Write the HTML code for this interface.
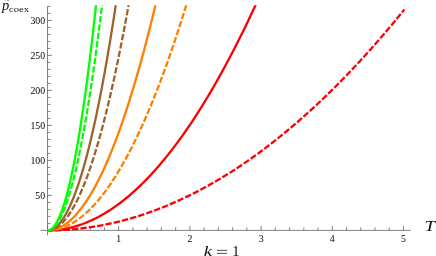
<!DOCTYPE html>
<html><head><meta charset="utf-8"><style>
html,body{margin:0;padding:0;background:#fff;}
svg{display:block;will-change:transform;font-family:"Liberation Serif",serif;}
</style></head><body>
<svg width="436" height="256" viewBox="0 0 436 256">
<rect width="436" height="256" fill="#fff"/>
<line x1="40.5" y1="230.4" x2="410.8" y2="230.4" stroke="#666" stroke-width="0.8"/>
<line x1="47.5" y1="6.2" x2="47.5" y2="235.2" stroke="#666" stroke-width="0.8"/>
<line x1="47.50" y1="230.4" x2="47.50" y2="225.9" stroke="#666" stroke-width="0.8"/>
<line x1="61.74" y1="230.4" x2="61.74" y2="227.3" stroke="#666" stroke-width="0.8"/>
<line x1="75.98" y1="230.4" x2="75.98" y2="227.3" stroke="#666" stroke-width="0.8"/>
<line x1="90.22" y1="230.4" x2="90.22" y2="227.3" stroke="#666" stroke-width="0.8"/>
<line x1="104.46" y1="230.4" x2="104.46" y2="227.3" stroke="#666" stroke-width="0.8"/>
<line x1="118.70" y1="230.4" x2="118.70" y2="225.9" stroke="#666" stroke-width="0.8"/>
<line x1="132.94" y1="230.4" x2="132.94" y2="227.3" stroke="#666" stroke-width="0.8"/>
<line x1="147.18" y1="230.4" x2="147.18" y2="227.3" stroke="#666" stroke-width="0.8"/>
<line x1="161.42" y1="230.4" x2="161.42" y2="227.3" stroke="#666" stroke-width="0.8"/>
<line x1="175.66" y1="230.4" x2="175.66" y2="227.3" stroke="#666" stroke-width="0.8"/>
<line x1="189.90" y1="230.4" x2="189.90" y2="225.9" stroke="#666" stroke-width="0.8"/>
<line x1="204.14" y1="230.4" x2="204.14" y2="227.3" stroke="#666" stroke-width="0.8"/>
<line x1="218.38" y1="230.4" x2="218.38" y2="227.3" stroke="#666" stroke-width="0.8"/>
<line x1="232.62" y1="230.4" x2="232.62" y2="227.3" stroke="#666" stroke-width="0.8"/>
<line x1="246.86" y1="230.4" x2="246.86" y2="227.3" stroke="#666" stroke-width="0.8"/>
<line x1="261.10" y1="230.4" x2="261.10" y2="225.9" stroke="#666" stroke-width="0.8"/>
<line x1="275.34" y1="230.4" x2="275.34" y2="227.3" stroke="#666" stroke-width="0.8"/>
<line x1="289.58" y1="230.4" x2="289.58" y2="227.3" stroke="#666" stroke-width="0.8"/>
<line x1="303.82" y1="230.4" x2="303.82" y2="227.3" stroke="#666" stroke-width="0.8"/>
<line x1="318.06" y1="230.4" x2="318.06" y2="227.3" stroke="#666" stroke-width="0.8"/>
<line x1="332.30" y1="230.4" x2="332.30" y2="225.9" stroke="#666" stroke-width="0.8"/>
<line x1="346.54" y1="230.4" x2="346.54" y2="227.3" stroke="#666" stroke-width="0.8"/>
<line x1="360.78" y1="230.4" x2="360.78" y2="227.3" stroke="#666" stroke-width="0.8"/>
<line x1="375.02" y1="230.4" x2="375.02" y2="227.3" stroke="#666" stroke-width="0.8"/>
<line x1="389.26" y1="230.4" x2="389.26" y2="227.3" stroke="#666" stroke-width="0.8"/>
<line x1="403.50" y1="230.4" x2="403.50" y2="225.9" stroke="#666" stroke-width="0.8"/>
<line x1="47.5" y1="230.40" x2="52.0" y2="230.40" stroke="#666" stroke-width="0.8"/>
<line x1="47.5" y1="223.40" x2="50.6" y2="223.40" stroke="#666" stroke-width="0.8"/>
<line x1="47.5" y1="216.40" x2="50.6" y2="216.40" stroke="#666" stroke-width="0.8"/>
<line x1="47.5" y1="209.40" x2="50.6" y2="209.40" stroke="#666" stroke-width="0.8"/>
<line x1="47.5" y1="202.40" x2="50.6" y2="202.40" stroke="#666" stroke-width="0.8"/>
<line x1="47.5" y1="195.40" x2="52.0" y2="195.40" stroke="#666" stroke-width="0.8"/>
<line x1="47.5" y1="188.40" x2="50.6" y2="188.40" stroke="#666" stroke-width="0.8"/>
<line x1="47.5" y1="181.40" x2="50.6" y2="181.40" stroke="#666" stroke-width="0.8"/>
<line x1="47.5" y1="174.40" x2="50.6" y2="174.40" stroke="#666" stroke-width="0.8"/>
<line x1="47.5" y1="167.40" x2="50.6" y2="167.40" stroke="#666" stroke-width="0.8"/>
<line x1="47.5" y1="160.40" x2="52.0" y2="160.40" stroke="#666" stroke-width="0.8"/>
<line x1="47.5" y1="153.40" x2="50.6" y2="153.40" stroke="#666" stroke-width="0.8"/>
<line x1="47.5" y1="146.40" x2="50.6" y2="146.40" stroke="#666" stroke-width="0.8"/>
<line x1="47.5" y1="139.40" x2="50.6" y2="139.40" stroke="#666" stroke-width="0.8"/>
<line x1="47.5" y1="132.40" x2="50.6" y2="132.40" stroke="#666" stroke-width="0.8"/>
<line x1="47.5" y1="125.40" x2="52.0" y2="125.40" stroke="#666" stroke-width="0.8"/>
<line x1="47.5" y1="118.40" x2="50.6" y2="118.40" stroke="#666" stroke-width="0.8"/>
<line x1="47.5" y1="111.40" x2="50.6" y2="111.40" stroke="#666" stroke-width="0.8"/>
<line x1="47.5" y1="104.40" x2="50.6" y2="104.40" stroke="#666" stroke-width="0.8"/>
<line x1="47.5" y1="97.40" x2="50.6" y2="97.40" stroke="#666" stroke-width="0.8"/>
<line x1="47.5" y1="90.40" x2="52.0" y2="90.40" stroke="#666" stroke-width="0.8"/>
<line x1="47.5" y1="83.40" x2="50.6" y2="83.40" stroke="#666" stroke-width="0.8"/>
<line x1="47.5" y1="76.40" x2="50.6" y2="76.40" stroke="#666" stroke-width="0.8"/>
<line x1="47.5" y1="69.40" x2="50.6" y2="69.40" stroke="#666" stroke-width="0.8"/>
<line x1="47.5" y1="62.40" x2="50.6" y2="62.40" stroke="#666" stroke-width="0.8"/>
<line x1="47.5" y1="55.40" x2="52.0" y2="55.40" stroke="#666" stroke-width="0.8"/>
<line x1="47.5" y1="48.40" x2="50.6" y2="48.40" stroke="#666" stroke-width="0.8"/>
<line x1="47.5" y1="41.40" x2="50.6" y2="41.40" stroke="#666" stroke-width="0.8"/>
<line x1="47.5" y1="34.40" x2="50.6" y2="34.40" stroke="#666" stroke-width="0.8"/>
<line x1="47.5" y1="27.40" x2="50.6" y2="27.40" stroke="#666" stroke-width="0.8"/>
<line x1="47.5" y1="20.40" x2="52.0" y2="20.40" stroke="#666" stroke-width="0.8"/>
<line x1="47.5" y1="13.40" x2="50.6" y2="13.40" stroke="#666" stroke-width="0.8"/>
<line x1="47.5" y1="6.40" x2="50.6" y2="6.40" stroke="#666" stroke-width="0.8"/>
<clipPath id="cp"><rect x="0" y="5.2" width="436" height="250"/></clipPath>
<g clip-path="url(#cp)">
<polyline points="47.50,230.40 52.02,230.36 56.53,230.26 61.05,230.08 65.57,229.83 70.09,229.52 74.60,229.13 79.12,228.67 83.64,228.14 88.15,227.53 92.67,226.86 97.19,226.12 101.71,225.30 106.22,224.42 110.74,223.46 115.26,222.44 119.77,221.34 124.29,220.17 128.81,218.93 133.33,217.62 137.84,216.24 142.36,214.79 146.88,213.27 151.39,211.68 155.91,210.02 160.43,208.28 164.95,206.48 169.46,204.60 173.98,202.66 178.50,200.64 183.01,198.55 187.53,196.39 192.05,194.16 196.57,191.86 201.08,189.49 205.60,187.05 210.12,184.54 214.63,181.95 219.15,179.30 223.67,176.57 228.19,173.78 232.70,170.91 237.22,167.98 241.74,164.97 246.25,161.89 250.77,158.74 255.29,155.52 259.81,152.23 264.32,148.87 268.84,145.43 273.36,141.93 277.87,138.36 282.39,134.71 286.91,131.00 291.43,127.21 295.94,123.35 300.46,119.42 304.98,115.42 309.49,111.35 314.01,107.21 318.53,103.00 323.05,98.72 327.56,94.37 332.08,89.95 336.60,85.45 341.11,80.89 345.63,76.25 350.15,71.54 354.67,66.77 359.18,61.92 363.70,57.00 368.22,52.01 372.73,46.95 377.25,41.82 381.77,36.62 386.29,31.34 390.80,26.00 395.32,20.58 399.84,15.10 404.35,9.54" fill="none" stroke="#ff0000" stroke-width="2.3" stroke-dasharray="6.35 2.1" stroke-dashoffset="0.8"/>
<polyline points="47.50,230.40 50.15,230.36 52.80,230.25 55.45,230.07 58.10,229.81 60.75,229.49 63.40,229.08 66.05,228.61 68.70,228.06 71.35,227.44 74.00,226.74 76.65,225.98 79.30,225.13 81.95,224.22 84.60,223.23 87.25,222.17 89.90,221.04 92.55,219.83 95.20,218.55 97.86,217.20 100.51,215.77 103.16,214.27 105.81,212.70 108.46,211.06 111.11,209.34 113.76,207.55 116.41,205.68 119.06,203.74 121.71,201.73 124.36,199.65 127.01,197.49 129.66,195.26 132.31,192.96 134.96,190.58 137.61,188.13 140.26,185.61 142.91,183.01 145.56,180.34 148.21,177.60 150.86,174.79 153.51,171.90 156.16,168.93 158.81,165.90 161.46,162.79 164.11,159.61 166.76,156.36 169.41,153.03 172.06,149.63 174.71,146.16 177.36,142.61 180.01,138.99 182.66,135.30 185.31,131.53 187.96,127.69 190.61,123.78 193.27,119.79 195.92,115.73 198.57,111.60 201.22,107.40 203.87,103.12 206.52,98.77 209.17,94.34 211.82,89.85 214.47,85.27 217.12,80.63 219.77,75.91 222.42,71.12 225.07,66.26 227.72,61.33 230.37,56.32 233.02,51.23 235.67,46.08 238.32,40.85 240.97,35.55 243.62,30.17 246.27,24.72 248.92,19.20 251.57,13.61 254.22,7.94 256.87,2.20" fill="none" stroke="#ff0000" stroke-width="2.3"/>
<polyline points="47.50,230.40 49.27,230.36 51.04,230.25 52.80,230.07 54.57,229.81 56.34,229.49 58.11,229.08 59.88,228.61 61.65,228.06 63.41,227.44 65.18,226.74 66.95,225.98 68.72,225.13 70.49,224.22 72.25,223.23 74.02,222.17 75.79,221.04 77.56,219.83 79.33,218.55 81.09,217.20 82.86,215.77 84.63,214.27 86.40,212.70 88.17,211.06 89.94,209.34 91.70,207.55 93.47,205.68 95.24,203.74 97.01,201.73 98.78,199.65 100.54,197.49 102.31,195.26 104.08,192.96 105.85,190.58 107.62,188.13 109.39,185.61 111.15,183.01 112.92,180.34 114.69,177.60 116.46,174.79 118.23,171.90 119.99,168.93 121.76,165.90 123.53,162.79 125.30,159.61 127.07,156.36 128.84,153.03 130.60,149.63 132.37,146.16 134.14,142.61 135.91,138.99 137.68,135.30 139.44,131.53 141.21,127.69 142.98,123.78 144.75,119.79 146.52,115.73 148.28,111.60 150.05,107.40 151.82,103.12 153.59,98.77 155.36,94.34 157.13,89.85 158.89,85.27 160.66,80.63 162.43,75.91 164.20,71.12 165.97,66.26 167.73,61.33 169.50,56.32 171.27,51.23 173.04,46.08 174.81,40.85 176.58,35.55 178.34,30.17 180.11,24.72 181.88,19.20 183.65,13.61 185.42,7.94 187.18,2.20" fill="none" stroke="#ff8000" stroke-width="2.3" stroke-dasharray="6.32 2.1" stroke-dashoffset="-0.5"/>
<polyline points="47.50,230.40 48.88,230.36 50.25,230.25 51.63,230.07 53.00,229.81 54.38,229.49 55.75,229.08 57.13,228.61 58.50,228.06 59.88,227.44 61.25,226.74 62.63,225.98 64.00,225.13 65.38,224.22 66.75,223.23 68.13,222.17 69.50,221.04 70.88,219.83 72.26,218.55 73.63,217.20 75.01,215.77 76.38,214.27 77.76,212.70 79.13,211.06 80.51,209.34 81.88,207.55 83.26,205.68 84.63,203.74 86.01,201.73 87.38,199.65 88.76,197.49 90.13,195.26 91.51,192.96 92.88,190.58 94.26,188.13 95.64,185.61 97.01,183.01 98.39,180.34 99.76,177.60 101.14,174.79 102.51,171.90 103.89,168.93 105.26,165.90 106.64,162.79 108.01,159.61 109.39,156.36 110.76,153.03 112.14,149.63 113.51,146.16 114.89,142.61 116.27,138.99 117.64,135.30 119.02,131.53 120.39,127.69 121.77,123.78 123.14,119.79 124.52,115.73 125.89,111.60 127.27,107.40 128.64,103.12 130.02,98.77 131.39,94.34 132.77,89.85 134.14,85.27 135.52,80.63 136.89,75.91 138.27,71.12 139.65,66.26 141.02,61.33 142.40,56.32 143.77,51.23 145.15,46.08 146.52,40.85 147.90,35.55 149.27,30.17 150.65,24.72 152.02,19.20 153.40,13.61 154.77,7.94 156.15,2.20" fill="none" stroke="#ff8000" stroke-width="2.3"/>
<polyline points="47.50,230.40 48.53,230.36 49.57,230.25 50.60,230.07 51.63,229.81 52.67,229.49 53.70,229.08 54.73,228.61 55.77,228.06 56.80,227.44 57.83,226.74 58.87,225.98 59.90,225.13 60.93,224.22 61.97,223.23 63.00,222.17 64.03,221.04 65.07,219.83 66.10,218.55 67.13,217.20 68.17,215.77 69.20,214.27 70.23,212.70 71.27,211.06 72.30,209.34 73.33,207.55 74.37,205.68 75.40,203.74 76.43,201.73 77.47,199.65 78.50,197.49 79.53,195.26 80.57,192.96 81.60,190.58 82.63,188.13 83.67,185.61 84.70,183.01 85.73,180.34 86.77,177.60 87.80,174.79 88.83,171.90 89.87,168.93 90.90,165.90 91.93,162.79 92.97,159.61 94.00,156.36 95.03,153.03 96.07,149.63 97.10,146.16 98.13,142.61 99.17,138.99 100.20,135.30 101.23,131.53 102.27,127.69 103.30,123.78 104.33,119.79 105.37,115.73 106.40,111.60 107.43,107.40 108.47,103.12 109.50,98.77 110.53,94.34 111.57,89.85 112.60,85.27 113.63,80.63 114.67,75.91 115.70,71.12 116.73,66.26 117.77,61.33 118.80,56.32 119.83,51.23 120.87,46.08 121.90,40.85 122.93,35.55 123.97,30.17 125.00,24.72 126.03,19.20 127.07,13.61 128.10,7.94 129.13,2.20" fill="none" stroke="#9c642c" stroke-width="2.3" stroke-dasharray="6.35 2.1" stroke-dashoffset="0.52"/>
<polyline points="47.50,230.40 48.37,230.36 49.24,230.25 50.11,230.07 50.98,229.81 51.85,229.49 52.72,229.08 53.59,228.61 54.46,228.06 55.33,227.44 56.20,226.74 57.07,225.98 57.94,225.13 58.81,224.22 59.68,223.23 60.55,222.17 61.42,221.04 62.29,219.83 63.16,218.55 64.03,217.20 64.90,215.77 65.77,214.27 66.64,212.70 67.51,211.06 68.38,209.34 69.25,207.55 70.12,205.68 70.99,203.74 71.85,201.73 72.72,199.65 73.59,197.49 74.46,195.26 75.33,192.96 76.20,190.58 77.07,188.13 77.94,185.61 78.81,183.01 79.68,180.34 80.55,177.60 81.42,174.79 82.29,171.90 83.16,168.93 84.03,165.90 84.90,162.79 85.77,159.61 86.64,156.36 87.51,153.03 88.38,149.63 89.25,146.16 90.12,142.61 90.99,138.99 91.86,135.30 92.73,131.53 93.60,127.69 94.47,123.78 95.34,119.79 96.21,115.73 97.08,111.60 97.95,107.40 98.82,103.12 99.69,98.77 100.56,94.34 101.43,89.85 102.30,85.27 103.17,80.63 104.04,75.91 104.91,71.12 105.78,66.26 106.65,61.33 107.52,56.32 108.39,51.23 109.26,46.08 110.13,40.85 111.00,35.55 111.87,30.17 112.74,24.72 113.61,19.20 114.48,13.61 115.35,7.94 116.22,2.20" fill="none" stroke="#9c642c" stroke-width="2.3"/>
<polyline points="47.50,230.40 48.20,230.36 48.89,230.25 49.59,230.07 50.28,229.81 50.98,229.49 51.67,229.08 52.37,228.61 53.06,228.06 53.76,227.44 54.45,226.74 55.15,225.98 55.84,225.13 56.54,224.22 57.23,223.23 57.93,222.17 58.62,221.04 59.32,219.83 60.01,218.55 60.71,217.20 61.40,215.77 62.10,214.27 62.79,212.70 63.49,211.06 64.18,209.34 64.88,207.55 65.57,205.68 66.27,203.74 66.96,201.73 67.66,199.65 68.35,197.49 69.05,195.26 69.74,192.96 70.44,190.58 71.13,188.13 71.83,185.61 72.52,183.01 73.22,180.34 73.92,177.60 74.61,174.79 75.31,171.90 76.00,168.93 76.70,165.90 77.39,162.79 78.09,159.61 78.78,156.36 79.48,153.03 80.17,149.63 80.87,146.16 81.56,142.61 82.26,138.99 82.95,135.30 83.65,131.53 84.34,127.69 85.04,123.78 85.73,119.79 86.43,115.73 87.12,111.60 87.82,107.40 88.51,103.12 89.21,98.77 89.90,94.34 90.60,89.85 91.29,85.27 91.99,80.63 92.68,75.91 93.38,71.12 94.07,66.26 94.77,61.33 95.46,56.32 96.16,51.23 96.85,46.08 97.55,40.85 98.25,35.55 98.94,30.17 99.64,24.72 100.33,19.20 101.03,13.61 101.72,7.94 102.42,2.20" fill="none" stroke="#00ff00" stroke-width="2.3" stroke-dasharray="6.35 2.1" stroke-dashoffset="0.85"/>
<polyline points="47.50,230.40 48.12,230.36 48.74,230.25 49.35,230.07 49.97,229.81 50.59,229.49 51.21,229.08 51.83,228.61 52.45,228.06 53.06,227.44 53.68,226.74 54.30,225.98 54.92,225.13 55.54,224.22 56.15,223.23 56.77,222.17 57.39,221.04 58.01,219.83 58.63,218.55 59.24,217.20 59.86,215.77 60.48,214.27 61.10,212.70 61.72,211.06 62.34,209.34 62.95,207.55 63.57,205.68 64.19,203.74 64.81,201.73 65.43,199.65 66.04,197.49 66.66,195.26 67.28,192.96 67.90,190.58 68.52,188.13 69.14,185.61 69.75,183.01 70.37,180.34 70.99,177.60 71.61,174.79 72.23,171.90 72.84,168.93 73.46,165.90 74.08,162.79 74.70,159.61 75.32,156.36 75.93,153.03 76.55,149.63 77.17,146.16 77.79,142.61 78.41,138.99 79.03,135.30 79.64,131.53 80.26,127.69 80.88,123.78 81.50,119.79 82.12,115.73 82.73,111.60 83.35,107.40 83.97,103.12 84.59,98.77 85.21,94.34 85.83,89.85 86.44,85.27 87.06,80.63 87.68,75.91 88.30,71.12 88.92,66.26 89.53,61.33 90.15,56.32 90.77,51.23 91.39,46.08 92.01,40.85 92.63,35.55 93.24,30.17 93.86,24.72 94.48,19.20 95.10,13.61 95.72,7.94 96.33,2.20" fill="none" stroke="#00ff00" stroke-width="2.3"/>
</g>
<text x="118.70" y="241.6" text-anchor="middle" font-size="9.8" fill="#000">1</text>
<text x="189.90" y="241.6" text-anchor="middle" font-size="9.8" fill="#000">2</text>
<text x="261.10" y="241.6" text-anchor="middle" font-size="9.8" fill="#000">3</text>
<text x="332.30" y="241.6" text-anchor="middle" font-size="9.8" fill="#000">4</text>
<text x="403.50" y="241.6" text-anchor="middle" font-size="9.8" fill="#000">5</text>
<text x="45.1" y="198.75" text-anchor="end" font-size="9.8" fill="#000">50</text>
<text x="45.1" y="163.75" text-anchor="end" font-size="9.8" fill="#000">100</text>
<text x="45.1" y="128.75" text-anchor="end" font-size="9.8" fill="#000">150</text>
<text x="45.1" y="93.75" text-anchor="end" font-size="9.8" fill="#000">200</text>
<text x="45.1" y="58.75" text-anchor="end" font-size="9.8" fill="#000">250</text>
<text x="45.1" y="23.75" text-anchor="end" font-size="9.8" fill="#000">300</text>
<text x="2.0" y="10.3" font-size="14.5" font-style="italic" fill="#111">p</text>
<text x="5.3" y="2.6" font-size="8" fill="#111">~</text>
<text x="9" y="12.2" font-size="8.6" fill="#111" textLength="20" lengthAdjust="spacingAndGlyphs">coex</text>
<text x="424.6" y="231.4" font-size="15" font-style="italic" fill="#111" textLength="10.6" lengthAdjust="spacingAndGlyphs">T</text>
<text x="203.8" y="255.7" font-size="15.5" font-style="italic" fill="#111" textLength="8.3" lengthAdjust="spacingAndGlyphs">k</text>
<text x="231.9" y="255.7" font-size="15.3" fill="#111">1</text>
<line x1="216.9" x2="227.1" y1="250.35" y2="250.35" stroke="#000" stroke-width="0.7"/><line x1="216.9" x2="227.1" y1="253.35" y2="253.35" stroke="#000" stroke-width="0.7"/>
</svg>
</body></html>
